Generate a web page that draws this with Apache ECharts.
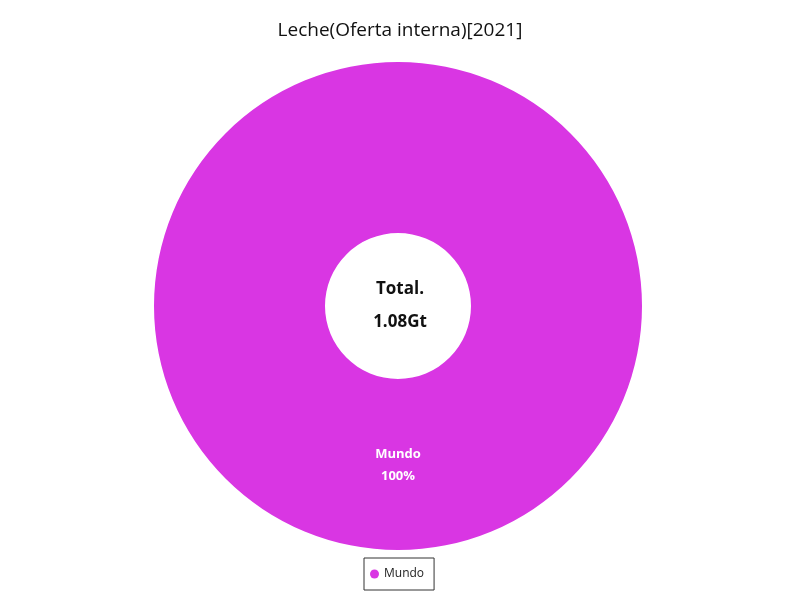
<!DOCTYPE html>
<html>
<head>
<meta charset="utf-8">
<script src="https://cdn.jsdelivr.net/npm/echarts@6/dist/echarts.min.js"></script>
<style>
  html, body { margin: 0; padding: 0; background: #fff; }
  #chart { width: 800px; height: 600px; }
</style>
</head>
<body>
<div id="chart"></div>
<script>
const regions = ["Mundo"];
const supplyTonnes = [1080000000];
const sliceColors = ["#d936e3"];

const FONT = "'Open Sans', 'Noto Sans', sans-serif";

function formatTonnes(value) {
  if (value >= 1e9) return (value / 1e9).toFixed(2) + "Gt";
  if (value >= 1e6) return (value / 1e6).toFixed(2) + "Mt";
  return value.toFixed(0) + "t";
}

const total = supplyTonnes.reduce((sum, v) => sum + v, 0);

const chart = echarts.init(document.getElementById("chart"), null, { renderer: "canvas" });

chart.setOption({
  animation: false,
  color: sliceColors,
  textStyle: { fontFamily: FONT },
  title: {
    text: "Leche(Oferta interna)[2021]",
    left: "center",
    top: 16,
    textStyle: { fontFamily: FONT, fontSize: 19, fontWeight: "normal", color: "#111" },
  },
  legend: {
    data: regions,
    bottom: 10,
    left: 364,
    icon: "circle",
    itemWidth: 9,
    itemHeight: 9,
    itemGap: 6,
    padding: [10, 10, 10, 6],
    borderColor: "#333",
    borderWidth: 1,
    textStyle: { fontFamily: FONT, fontSize: 12, color: "#222" },
  },
  graphic: [
    {
      type: "text",
      left: "center",
      top: 281,
      style: {
        text: "Total.",
        font: "bold 17px " + FONT,
        fill: "#111",
        textAlign: "center",
      },
    },
    {
      type: "text",
      left: "center",
      top: 314,
      style: {
        text: formatTonnes(total),
        font: "bold 17px " + FONT,
        fill: "#111",
        textAlign: "center",
      },
    },
  ],
  series: [
    {
      type: "pie",
      center: [398, 306],
      radius: [73, 244],
      startAngle: 90,
      label: {
        show: true,
        position: "inside",
        formatter: (p) => `${p.name}\n${Math.round(p.percent)}%`,
        color: "#fff",
        fontWeight: "bold",
        fontSize: 13,
        lineHeight: 22,
        fontFamily: FONT,
        offset: [0, -2],
      },
      labelLine: { show: false },
      data: regions.map((name, i) => ({ name, value: supplyTonnes[i] })),
    },
  ],
});
</script>
</body>
</html>
